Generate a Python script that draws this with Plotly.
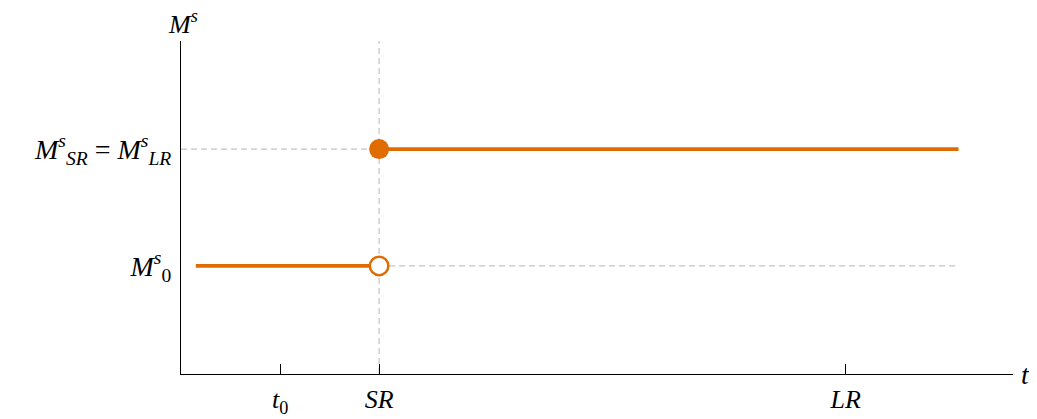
import plotly.graph_objects as go

# Data (time points and money supply levels)
t_start, t0, t_sr, t_lr, t_end = 0.15, 1.0, 2.0, 6.71, 7.85
M0, M_SR = 1.0, 2.08
y_top = 3.08
x_ticks = [t0, t_sr, t_lr]
x_ticktext = ["<i>t</i><sub>0</sub>", "<i>SR</i>", "<i>LR</i>"]
y_ticks = [M0, M_SR]
y_ticktext = ["<i>M</i><sup><i>s</i></sup><sub>0</sub>",
              "<i>M</i><sup><i>s</i></sup><sub><i>SR</i></sub> = <i>M</i><sup><i>s</i></sup><sub><i>LR</i></sub>"]

ORANGE = "#e06c00"
GRAY = "#c4c4c4"
FONT = "Liberation Serif"
FS = 28

fig = go.Figure()

dash = dict(color=GRAY, width=1.2, dash="6px,4px")
# dashed guide lines
fig.add_trace(go.Scatter(x=[t_sr, t_sr], y=[0, y_top], mode="lines", line=dash, hoverinfo="skip"))
fig.add_trace(go.Scatter(x=[0, t_sr], y=[M_SR, M_SR], mode="lines", line=dash, hoverinfo="skip"))
fig.add_trace(go.Scatter(x=[t_sr, t_end], y=[M0, M0], mode="lines", line=dash, hoverinfo="skip"))

# money supply path
fig.add_trace(go.Scatter(x=[t_start, t_sr], y=[M0, M0], mode="lines",
                         line=dict(color=ORANGE, width=3.6)))
fig.add_trace(go.Scatter(x=[t_sr, t_end], y=[M_SR, M_SR], mode="lines",
                         line=dict(color=ORANGE, width=3.6)))
fig.add_trace(go.Scatter(x=[t_sr], y=[M_SR], mode="markers",
                         marker=dict(color=ORANGE, size=20, line=dict(width=0))))
fig.add_trace(go.Scatter(x=[t_sr], y=[M0], mode="markers",
                         marker=dict(color="white", size=18.5, line=dict(color=ORANGE, width=2.5))))

# page body has an 8px default margin, so the figure is sized/offset to compensate
fig.update_layout(
    width=1029, height=411,
    margin=dict(l=173, r=24, t=33, b=45),
    plot_bgcolor="white", paper_bgcolor="white",
    showlegend=False,
    font=dict(family=FONT, size=FS, color="black"),
    xaxis=dict(range=[0, 8.4], showgrid=False, zeroline=False, automargin=False,
               showline=True, linecolor="black", linewidth=1.2,
               tickvals=x_ticks, ticktext=x_ticktext,
               ticks="inside", ticklen=10, tickwidth=1.2, tickcolor="black",
               ticklabelstandoff=2,
               tickfont=dict(family=FONT, size=26)),
    yaxis=dict(range=[0, y_top], showgrid=False, zeroline=False, automargin=False,
               showline=True, linecolor="black", linewidth=1.2,
               tickvals=y_ticks, ticktext=y_ticktext, ticks="",
               ticklabelstandoff=3,
               tickfont=dict(family=FONT, size=FS)),
    annotations=[
        dict(text="<i>M</i><sup><i>s</i></sup>", xref="paper", yref="paper",
             x=0.003, y=1.0, xanchor="center", yanchor="bottom", showarrow=False,
             font=dict(family=FONT, size=26), yshift=0),
        dict(text="<i>t</i>", xref="paper", yref="paper",
             x=1.0, y=0.0, xanchor="left", yanchor="middle", showarrow=False,
             font=dict(family=FONT, size=FS), xshift=6),
    ],
)

fig.write_html("out.html")
